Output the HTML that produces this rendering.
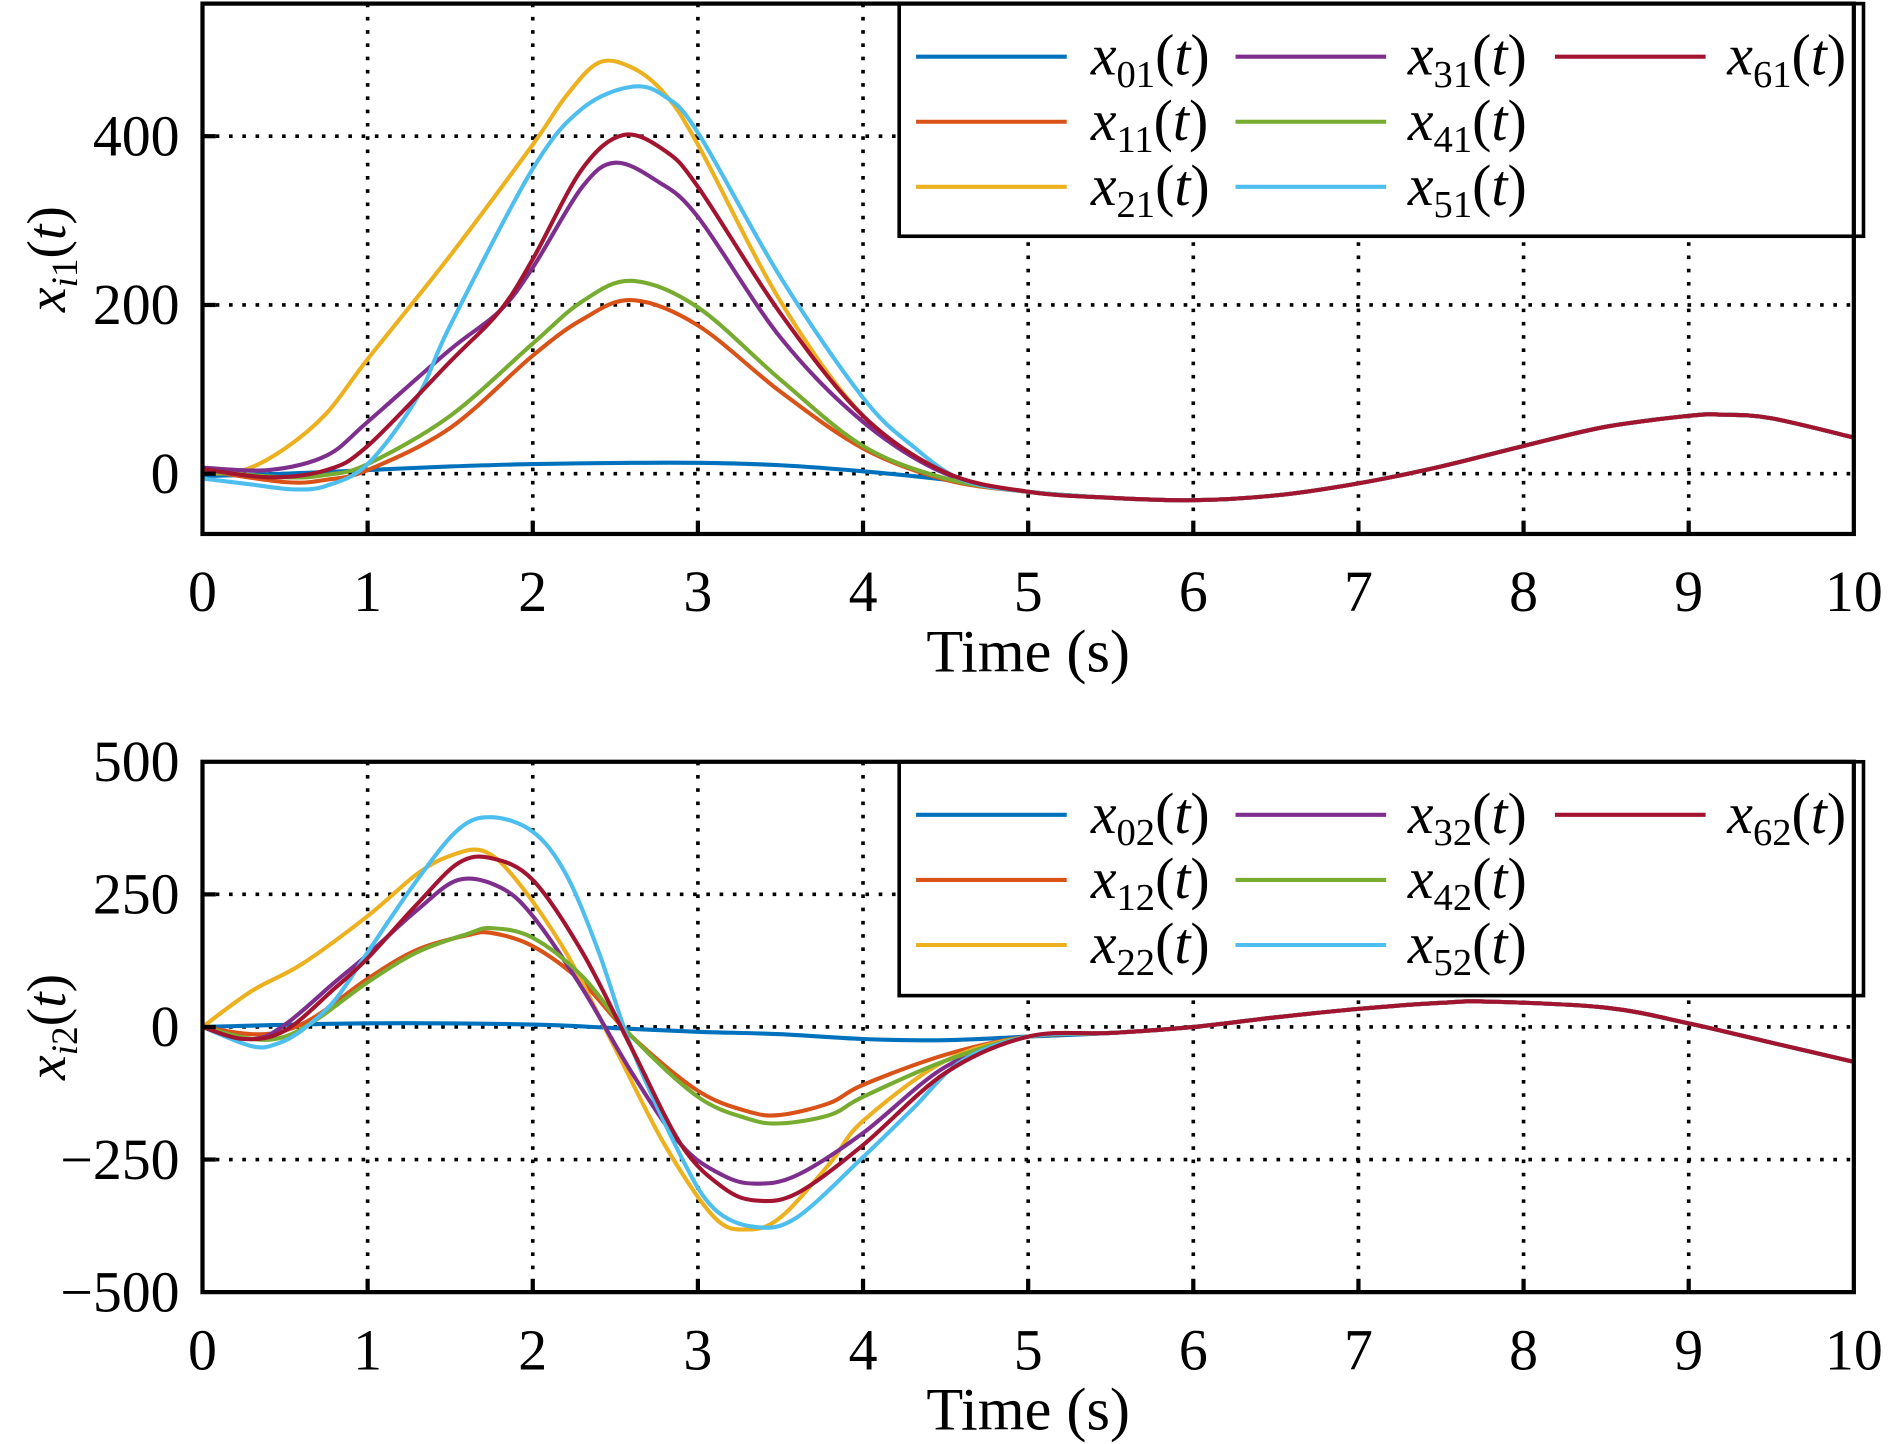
<!DOCTYPE html>
<html><head><meta charset="utf-8"><style>
html,body{margin:0;padding:0;background:#fff;}
svg{display:block;}
text{font-family:"Liberation Serif",serif;fill:#000;}
</style></head><body>
<svg id="s" width="1890" height="1444" viewBox="0 0 1568 1198" preserveAspectRatio="none" xmlns="http://www.w3.org/2000/svg"></svg>
<script>
const S=document.getElementById('s');let h='';
const X=t=>168+137*t;
const C=['#0072BD','#D95319','#EDB120','#7E2F8E','#77AC30','#4DBEEE','#A2142F'];
function pl(pts,c){
  const P=pts.map(p=>[X(p[0]),p[1]]);
  let d=`M${P[0][0].toFixed(1)},${P[0][1]}`;
  for(let i=0;i<P.length-1;i++){
    const p0=P[Math.max(0,i-1)],p1=P[i],p2=P[i+1],p3=P[Math.min(P.length-1,i+2)];
    const c1=[p1[0]+(p2[0]-p0[0])/6,p1[1]+(p2[1]-p0[1])/6];
    const c2=[p2[0]-(p3[0]-p1[0])/6,p2[1]-(p3[1]-p1[1])/6];
    d+=` C${c1[0].toFixed(1)},${c1[1].toFixed(1)} ${c2[0].toFixed(1)},${c2[1].toFixed(1)} ${p2[0].toFixed(1)},${p2[1]}`;
  }
  h+=`<path fill="none" stroke="${c}" stroke-width="3.4" stroke-linejoin="round" d="${d}"/>`;}
function panel(top,bot,yt,ylabels,lab,series,tail,leg,suf){
  for(let i=1;i<10;i++)h+=`<line x1="${X(i)}" y1="${top}" x2="${X(i)}" y2="${bot}" stroke="#000" stroke-width="3" stroke-dasharray="3 8"/>`;
  yt.forEach(y=>{h+=`<line x1="168" y1="${y}" x2="1538" y2="${y}" stroke="#000" stroke-width="3" stroke-dasharray="3 8"/>`;});
  series.forEach((s,i)=>pl(s.concat(tail),C[i]));
  h+=`<rect x="746" y="${top}" width="800" height="${leg}" fill="#fff" stroke="#000" stroke-width="3"/>`;
  const cols=[[760,905],[1025,1168],[1290,1433]];
  const order=[[0,0],[0,1],[0,2],[1,0],[1,1],[1,2],[2,0]];
  order.forEach((o,i)=>{const y=top+44+o[1]*54;const c=cols[o[0]];
    h+=`<line x1="${c[0]}" y1="${y}" x2="${c[0]+125}" y2="${y}" stroke="${C[i]}" stroke-width="3.4"/>`;
    h+=`<text x="${c[1]}" y="${y+15}" font-size="48"><tspan font-style="italic">x</tspan><tspan font-size="32" dy="10">${i}${suf}</tspan><tspan dy="-10">(</tspan><tspan font-style="italic">t</tspan>)</text>`;});
  h+=`<rect x="168" y="${top}" width="1370" height="${bot-top}" fill="none" stroke="#000" stroke-width="3.5"/>`;
  for(let i=1;i<10;i++){h+=`<line x1="${X(i)}" y1="${bot}" x2="${X(i)}" y2="${bot-11}" stroke="#000" stroke-width="3.5"/>`;}
  yt.forEach(y=>{h+=`<line x1="168" y1="${y}" x2="179" y2="${y}" stroke="#000" stroke-width="3.5"/>`;});
  ylabels.forEach(l=>{h+=`<text x="149" y="${l[0]+16}" font-size="48" text-anchor="end">${l[1]}</text>`;});
  for(let i=0;i<=10;i++)h+=`<text x="${X(i)}" y="${bot+64}" font-size="48" text-anchor="middle">${i}</text>`;
  h+=`<text x="853" y="${bot+114}" font-size="50" text-anchor="middle">Time (s)</text>`;
  h+=`<text transform="translate(54,${lab}) rotate(-90)" font-size="46" text-anchor="middle"><tspan font-style="italic">x</tspan><tspan font-size="31" dy="10"><tspan font-style="italic">i</tspan>${suf}</tspan><tspan dy="-10">(</tspan><tspan font-style="italic">t</tspan>)</text>`;
}
const tail1=[[5,408],[5.5,413],[6,415],[6.5,411],[7,401],[7.5,387],[8,370],[8.5,354],[9,345],[9.2,344],[9.5,347],[10,363]];
const s1=[
[[0,395],[0.5,393],[1,390],[1.5,387],[2,385],[2.6,384],[3,384],[3.5,386],[4,391],[4.5,398]],
[[0,390],[0.5,400],[0.75,398],[1,390],[1.5,355],[2,295],[2.3,265],[2.6,249],[3,270],[3.5,325],[4,372],[4.5,398]],
[[0,393],[0.25,390],[0.5,372],[0.75,343],[1,298],[1.5,212],[2,120],[2.2,80],[2.4,52],[2.6,56],[2.8,78],[3,120],[3.5,250],[4,345],[4.5,392]],
[[0,388],[0.4,390],[0.75,378],[1,350],[1.5,290],[1.8,258],[2,222],[2.3,155],[2.5,135],[2.75,150],[3,180],[3.5,280],[4,350],[4.5,393]],
[[0,391],[0.5,396],[0.75,394],[1,385],[1.5,345],[2,285],[2.3,250],[2.6,233],[3,255],[3.5,315],[4,370],[4.5,397]],
[[0,397],[0.3,402],[0.55,406],[0.75,403],[1,385],[1.3,330],[1.5,270],[2,140],[2.3,90],[2.6,72],[2.8,80],[3,110],[3.5,230],[4,330],[4.3,370],[4.6,398]],
[[0,389],[0.4,396],[0.75,390],[1,370],[1.5,300],[1.8,258],[2,215],[2.3,140],[2.55,112],[2.8,125],[3,155],[3.5,260],[4,345],[4.5,392]]];
panel(3,443,[113,253,393],[[113,'400'],[253,'200'],[393,'0']],215,s1,tail1,193,'1');
const tail2=[[5,860],[5.5,857],[6,852],[6.5,844],[7,837],[7.5,832],[7.8,831],[8.5,836],[9,849],[9.5,865],[10,881]];
const s2=[
[[0,852],[1,849],[2,850],[2.5,853],[3,856],[3.5,858],[4,862],[4.5,863]],
[[0,852],[0.3,858],[0.5,855],[0.7,842],[1,812],[1.3,788],[1.6,776],[1.75,774],[2,785],[2.3,815],[2.6,860],[3,905],[3.3,922],[3.5,925],[3.8,915],[4,900],[4.5,875]],
[[0,852],[0.3,822],[0.6,800],[1,760],[1.3,725],[1.5,710],[1.7,706],[1.9,730],[2.2,790],[2.5,870],[2.8,950],[3.1,1010],[3.3,1020],[3.5,1010],[3.8,965],[4,930],[4.5,880]],
[[0,852],[0.3,862],[0.5,850],[0.8,815],[1,792],[1.3,755],[1.55,730],[1.8,736],[2,760],[2.3,820],[2.6,890],[2.9,950],[3.15,975],[3.35,982],[3.6,975],[4,940],[4.5,885]],
[[0,852],[0.3,862],[0.5,860],[0.7,845],[1,815],[1.3,790],[1.6,775],[1.75,770],[2,778],[2.3,810],[2.6,860],[3,910],[3.3,928],[3.5,932],[3.8,925],[4,910],[4.5,880]],
[[0,852],[0.3,868],[0.45,866],[0.6,855],[0.8,830],[1,790],[1.3,730],[1.55,688],[1.75,678],[2,690],[2.2,725],[2.4,790],[2.6,870],[2.9,960],[3.1,1003],[3.35,1018],[3.6,1010],[4,960],[4.3,920],[4.6,880]],
[[0,852],[0.25,862],[0.5,855],[0.8,820],[1,795],[1.3,750],[1.55,716],[1.75,712],[2,730],[2.3,790],[2.6,870],[2.9,950],[3.15,985],[3.35,996],[3.6,990],[4,950],[4.5,890]]];
panel(632,1072,[742,852,962],[[632,'500'],[742,'250'],[852,'0'],[962,'\u2212250'],[1072,'\u2212500']],852,s2,tail2,194,'2');
S.innerHTML=h;
</script>
</body></html>
